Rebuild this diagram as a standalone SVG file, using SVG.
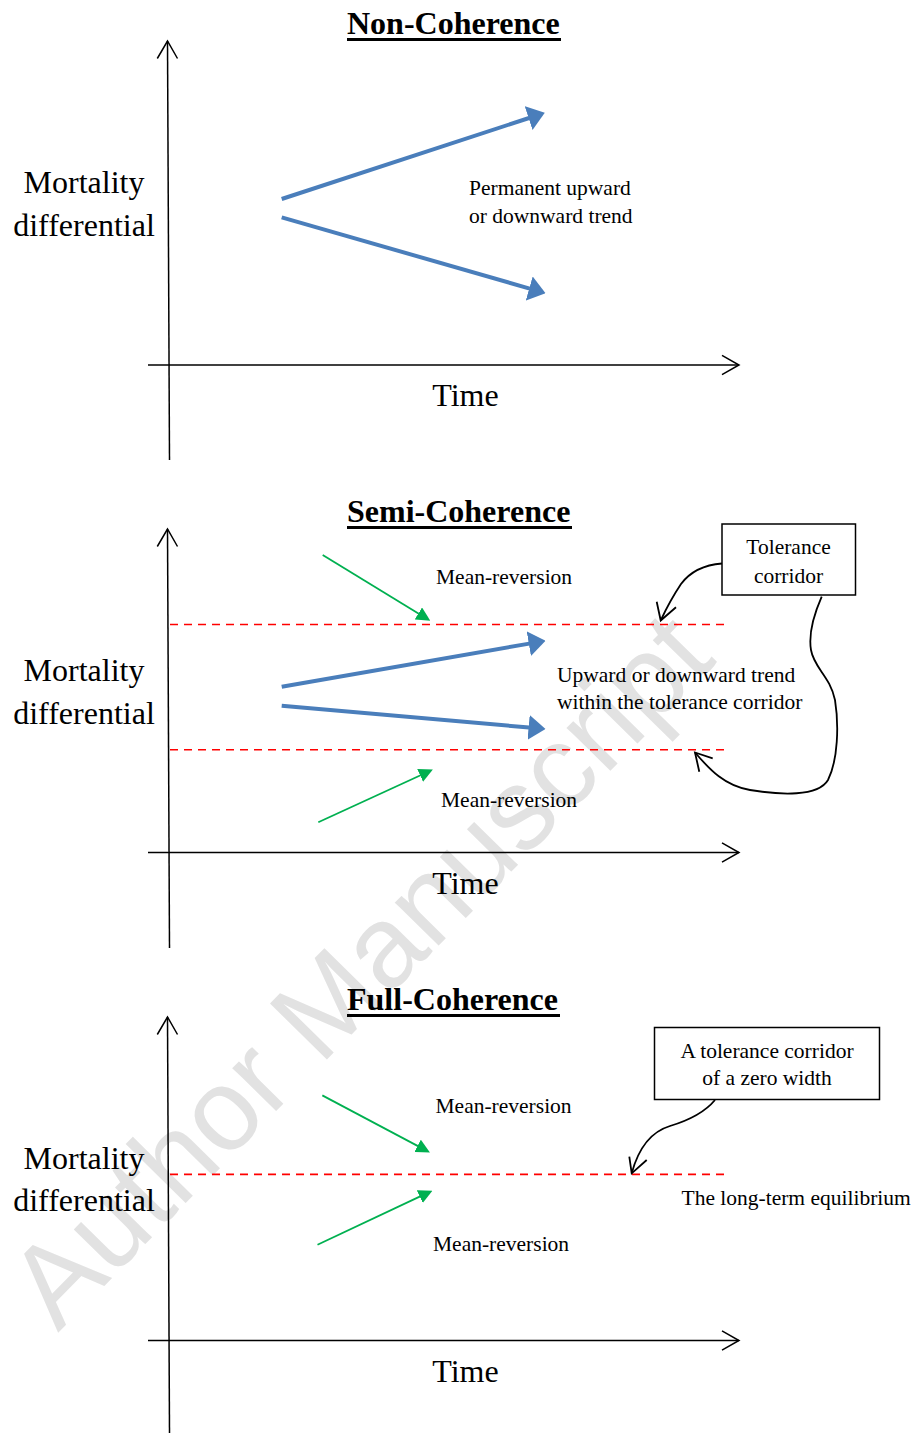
<svg xmlns="http://www.w3.org/2000/svg" width="917" height="1433" viewBox="0 0 917 1433">
<style>
.t{font-family:"Liberation Serif","Times New Roman",serif;fill:#000}
.title{font-size:32px;font-weight:bold}
.big{font-size:32px}
.sm{font-size:21.5px}
.ax{stroke:#000;stroke-width:1.5;fill:none}
.ul{stroke:#000;stroke-width:3}
.red{stroke:#ff0000;stroke-width:1.6;stroke-dasharray:8 6;fill:none}
.blue{stroke:#4a7ebb;stroke-width:4;fill:none;marker-end:url(#mb)}
.green{stroke:#00b050;stroke-width:1.8;fill:none;marker-end:url(#mg)}
.cur{stroke:#000;stroke-width:1.8;fill:none}
.box{fill:#fff;stroke:#000;stroke-width:1.5}
.wm{font-family:"Liberation Sans",Arial,sans-serif;font-size:116px;fill:#e2e2e2}
</style>
<defs>
<marker id="mb" markerUnits="userSpaceOnUse" markerWidth="17" markerHeight="25" viewBox="0 0 17 25" refX="0.5" refY="12.5" orient="auto"><path d="M0,0L17,12.5L0,25Z" fill="#4a7ebb"/></marker>
<marker id="mg" markerUnits="userSpaceOnUse" markerWidth="14" markerHeight="14" viewBox="0 0 14 14" refX="0.5" refY="7" orient="auto"><path d="M0,0L14,7L0,14Z" fill="#00b050"/></marker>
</defs>
<rect width="917" height="1433" fill="#fff"/>
<text class="wm" transform="translate(58,1333) rotate(-45.5)">Author Manuscript</text>

<!-- Panel 1 -->
<g id="title1"><text class="t title" x="347" y="34">Non-Coherence</text><line class="ul" x1="347" y1="39.5" x2="561" y2="39.5"/></g>
<g id="axes1">
<line class="ax" x1="167.5" y1="41" x2="169.5" y2="460"/>
<polyline class="ax" points="157.3,58.5 167.5,41 177.5,58.5"/>
<line class="ax" x1="148" y1="365" x2="739" y2="365"/>
<polyline class="ax" points="722,355.3 739,365 722,374.7"/>
</g>
<g id="ylabel1"><text class="t big" text-anchor="middle" x="84" y="193">Mortality</text><text class="t big" text-anchor="middle" x="84" y="235.5">differential</text></g>
<g id="xlabel1"><text class="t big" text-anchor="middle" x="465.5" y="406">Time</text></g>
<g id="label1"><text class="t sm" x="469" y="194.5">Permanent upward</text><text class="t sm" x="469" y="222.5">or downward trend</text></g>

<!-- Panel 2 -->
<g id="title2"><text class="t title" x="347" y="522">Semi-Coherence</text><line class="ul" x1="347" y1="527.5" x2="572" y2="527.5"/></g>
<g id="axes2">
<line class="ax" x1="167.5" y1="529" x2="169.5" y2="948"/>
<polyline class="ax" points="157.3,546.5 167.5,529 177.5,546.5"/>
<line class="ax" x1="148" y1="852.5" x2="739" y2="852.5"/>
<polyline class="ax" points="722,842.8 739,852.5 722,862.2"/>
</g>
<g id="corridor2">
<line class="red" x1="170" y1="624.5" x2="728.5" y2="624.5"/>
<line class="red" x1="170" y1="749.8" x2="728.5" y2="749.8"/>
</g>
<g id="ylabel2"><text class="t big" text-anchor="middle" x="84" y="681">Mortality</text><text class="t big" text-anchor="middle" x="84" y="723.5">differential</text></g>
<g id="xlabel2"><text class="t big" text-anchor="middle" x="465.5" y="894">Time</text></g>
<g id="mr2a"><text class="t sm" x="436" y="583.5">Mean-reversion</text></g>
<g id="mr2b"><text class="t sm" x="441" y="806.5">Mean-reversion</text></g>
<g id="label2"><text class="t sm" x="557" y="681.5">Upward or downward trend</text><text class="t sm" x="557" y="709">within the tolerance corridor</text></g>
<g id="box2"><rect class="box" x="722" y="524" width="133.5" height="71"/><text class="t sm" text-anchor="middle" x="788.5" y="554">Tolerance</text><text class="t sm" text-anchor="middle" x="788.5" y="582.7">corridor</text></g>

<!-- Panel 3 -->
<g id="title3"><text class="t title" x="347" y="1010">Full-Coherence</text><line class="ul" x1="347" y1="1015.5" x2="560" y2="1015.5"/></g>
<g id="axes3">
<line class="ax" x1="167.5" y1="1017" x2="169.5" y2="1433"/>
<polyline class="ax" points="157.3,1034.5 167.5,1017 177.5,1034.5"/>
<line class="ax" x1="148" y1="1340.5" x2="739" y2="1340.5"/>
<polyline class="ax" points="722,1330.8 739,1340.5 722,1350.2"/>
</g>
<g id="equilibrium3"><line class="red" x1="170" y1="1174.4" x2="728.5" y2="1174.4"/></g>
<g id="ylabel3"><text class="t big" text-anchor="middle" x="84" y="1168.5">Mortality</text><text class="t big" text-anchor="middle" x="84" y="1210.5">differential</text></g>
<g id="xlabel3"><text class="t big" text-anchor="middle" x="465.5" y="1382">Time</text></g>
<g id="mr3a"><text class="t sm" x="435.5" y="1112.8">Mean-reversion</text></g>
<g id="mr3b"><text class="t sm" x="433" y="1251">Mean-reversion</text></g>
<g id="label3"><text class="t sm" x="681.5" y="1205">The long-term equilibrium</text></g>
<g id="box3"><rect class="box" x="654.5" y="1027.5" width="225" height="72"/><text class="t sm" text-anchor="middle" x="767" y="1057.5">A tolerance corridor</text><text class="t sm" text-anchor="middle" x="767" y="1085">of a zero width</text></g>

<g id="connectors">
<line class="blue" x1="281.7" y1="199" x2="529.1" y2="118"/>
<line class="blue" x1="281.7" y1="217.3" x2="529.7" y2="288.6"/>
<line class="blue" x1="281.7" y1="686.7" x2="529.3" y2="643.6"/>
<line class="blue" x1="281.7" y1="705.7" x2="529.1" y2="727.5"/>
<line class="green" x1="322.7" y1="555" x2="418.8" y2="613.7"/>
<line class="green" x1="318.3" y1="822.3" x2="420.6" y2="775.2"/>
<line class="green" x1="322.3" y1="1095.4" x2="418" y2="1146.1"/>
<line class="green" x1="317.5" y1="1244.7" x2="420.2" y2="1196.4"/>
<path class="cur" d="M722,563.5C702,565 690,572 681,584C673,596 666,609 660.7,620.5"/>
<polyline class="cur" points="656.7,601.7 660.7,620.5 676,607.3"/>
<path class="cur" d="M821.7,596.7C815,612 808,632 811,650C814,668 830,676 835,700C839,725 838,760 828,780C818,797 780,795 750,790C725,786 710,770 695,752.5"/>
<polyline class="cur" points="699.3,771.7 695,752.5 712.7,758.3"/>
<path class="cur" d="M715,1100C705,1112 690,1120 670,1126C650,1132 638,1150 631.7,1173.3"/>
<polyline class="cur" points="629.3,1156.7 631.7,1173.3 646.7,1160"/>
</g>
</svg>
